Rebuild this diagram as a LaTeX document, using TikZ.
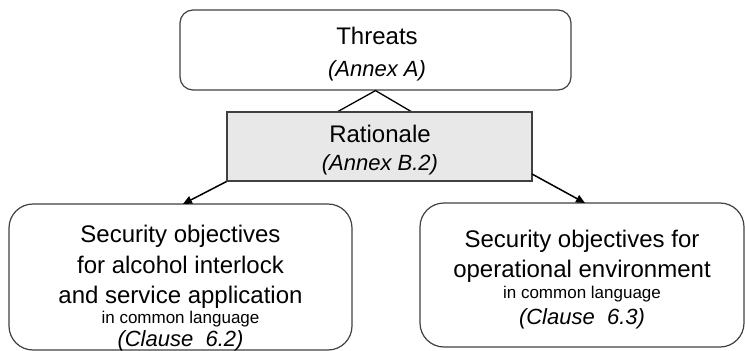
\documentclass[tikz,border=0pt]{standalone}
\usepackage{fontspec}
\setmainfont{Liberation Sans}
\usetikzlibrary{arrows.meta}
\definecolor{edge}{HTML}{404040}
\definecolor{ratfill}{HTML}{E8E8E8}
\begin{document}
\begin{tikzpicture}[x=1pt,y=-1pt,
  roundbox/.style={draw=edge,line width=1.2pt,inner sep=0pt},
  ratbox/.style={draw=edge,fill=ratfill,line width=1.1pt,inner sep=0pt},
  big/.style={inner sep=0pt,anchor=base,font=\fontsize{24}{28}\selectfont},
  ital/.style={inner sep=0pt,anchor=base,font=\fontsize{22}{26}\selectfont\itshape},
  small/.style={inner sep=0pt,anchor=base,font=\fontsize{17}{20}\selectfont},
  conn/.style={draw=black,line width=1.5pt},
  arr/.style={conn,-{Triangle[length=9pt,width=8pt]}}]
\useasboundingbox (0,0) rectangle (745,351);
% boxes
\node[roundbox,rounded corners=13pt,minimum width=391pt,minimum height=80pt] (thr) at (375.5,50) {};
\node[roundbox,rounded corners=24pt,minimum width=343pt,minimum height=146pt] (left) at (180.5,277) {};
\node[roundbox,rounded corners=24pt,minimum width=324pt,minimum height=144pt] (right) at (582,275) {};
% triangle connector
\coordinate (t1) at (337,112);
\coordinate (t2) at (412,112);
\draw[conn,line width=1.3pt] (t1) -- (thr.south) -- (t2);
% rationale
\node[ratbox,minimum width=305pt,minimum height=69pt] (rat) at (379.5,146.5) {};
% arrows
\coordinate (a1) at (rat.south west);
\coordinate (a2) at (532,174);
\coordinate (l1) at (183,204);
\coordinate (r1) at (585,203);
\draw[arr] (a1) -- (l1);
\draw[arr] (a2) -- (r1);
% texts
\node[big] (thrA) at (377,44) {Threats};
\node[ital] (thrB) at (377,76) {(Annex A)};
\node[big] (ratA) at (380,142) {Rationale};
\node[ital] (ratB) at (380,170) {(Annex B.2)};
\node[big] (lA) at (180.5,242) {Security objectives};
\node[big] (lB) at (180.5,273) {for alcohol interlock};
\node[big] (lC) at (180.5,303) {and service application};
\node[small] (lD) at (180.5,323) {in common language};
\node[ital] (lE) at (180.5,346) {(Clause\ \ 6.2)};
\node[big] (rA) at (582,247) {Security objectives for};
\node[big] (rB) at (582,277) {operational environment};
\node[small] (rC) at (582,298) {in common language};
\node[ital] (rD) at (582,324) {(Clause\ \ 6.3)};
\end{tikzpicture}
\end{document}
